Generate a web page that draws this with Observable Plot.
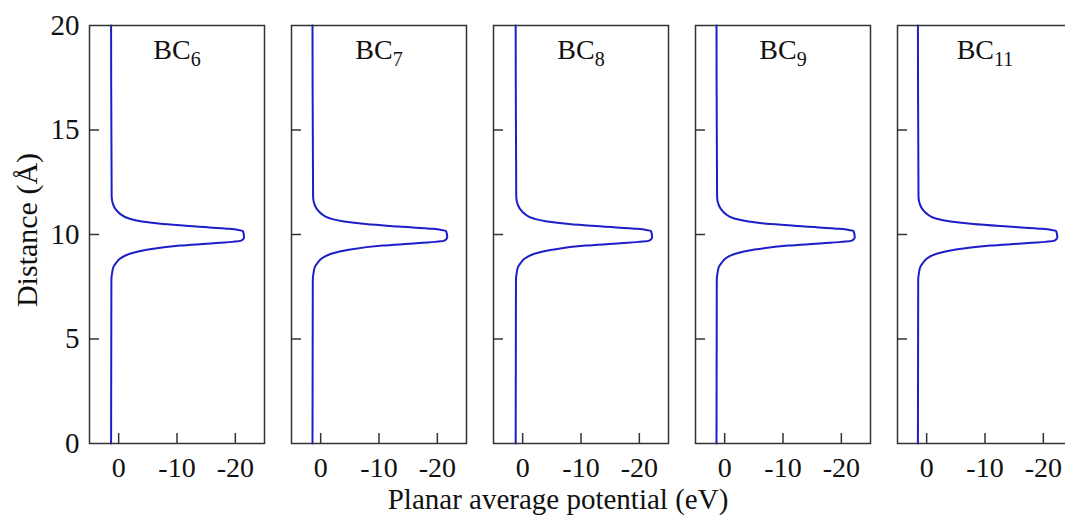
<!DOCTYPE html>
<html><head><meta charset="utf-8">
<script src="https://cdn.jsdelivr.net/npm/d3@7"></script>
<script src="https://cdn.jsdelivr.net/npm/@observablehq/plot@0.6"></script>
<style>
html,body{margin:0;padding:0;overflow:hidden;background:#fff;width:1065px;height:523px}
#chart svg{display:block;overflow:hidden}
</style>
</head><body><div id="chart"></div>
<script>
// panel subscripts (BC_n)
const panels = ["6", "7", "8", "9", "11"];
// shared distance samples (Å)
const distance = [0, 7.8, 8.2, 8.44, 8.65, 8.84, 9.08, 9.27, 9.47, 9.58, 9.71, 9.8, 9.87, 10.16, 10.22, 10.27, 10.38, 10.5, 10.62, 10.75, 11.0, 11.2, 11.4, 11.8, 20];
// planar average potential (eV) per panel
const potBC6  = [1.3, 1.25, 1.1, 0.9, 0.4, -0.2, -1.9, -4.8, -10.5, -16.2, -21.0, -21.4, -21.5, -21.3, -20.5, -19.0, -13.3, -7.6, -4.0, -1.9, -0.2, 0.5, 0.9, 1.2, 1.3];
const potBC7  = [1.4, 1.35, 1.2, 1.0, 0.5, -0.1, -1.8, -4.8, -10.6, -16.4, -21.2, -21.6, -21.7, -21.5, -20.7, -19.2, -13.4, -7.7, -4.0, -1.8, -0.1, 0.6, 1.0, 1.3, 1.4];
const potBC8  = [1.2, 1.15, 1.0, 0.8, 0.3, -0.3, -2.0, -5.0, -10.8, -16.7, -21.7, -22.1, -22.2, -22.0, -21.2, -19.6, -13.7, -7.9, -4.2, -2.0, -0.3, 0.4, 0.8, 1.1, 1.2];
const potBC9  = [1.4, 1.35, 1.2, 1.0, 0.5, -0.1, -1.8, -4.9, -10.9, -16.8, -21.8, -22.2, -22.3, -22.1, -21.3, -19.7, -13.8, -7.9, -4.1, -1.8, -0.1, 0.6, 1.0, 1.3, 1.4];
const potBC11 = [1.5, 1.45, 1.3, 1.1, 0.6, 0.0, -1.7, -4.8, -10.9, -16.9, -21.9, -22.3, -22.4, -22.2, -21.4, -19.8, -13.9, -8.0, -4.1, -1.7, 0.0, 0.7, 1.1, 1.4, 1.5];
// tick labels
const xTicks = [0, -10, -20];
const yTicks = [0, 5, 10, 15, 20];
const yInnerTicks = [5, 10, 15];
const xLabel = "Planar average potential (eV)";
const yLabel = "Distance (Å)";

const series = [potBC6, potBC7, potBC8, potBC9, potBC11];
const table = panels.flatMap((p, i) => distance.map((d, j) => ({panel: p, distance: d, potential: series[i][j]})));

// the last panel runs past the right edge of the picture, as in the reference
const W = 1065, H = 523, mL = 88, mR = -8, mT = 25, mB = 80;
const pad = 0.136;
const step = (W - mL - mR) / (panels.length - pad);
const bw = step * (1 - pad);
const innerH = H - mT - mB;
const ink = "#333";
const fmt = d => String(d);

const chart = Plot.plot({
  width: W, height: H,
  marginLeft: mL, marginRight: mR, marginTop: mT, marginBottom: mB,
  style: {fontFamily: "'Liberation Serif', 'Times New Roman', serif", fontSize: "28px", color: "#111", background: "#fff", overflow: "hidden"},
  fx: {domain: panels, paddingInner: pad, paddingOuter: 0, axis: null, label: null},
  x: {domain: [5, -25]},
  y: {domain: [0, 20]},
  marks: [
    Plot.line(table, {x: "potential", y: "distance", fx: "panel", curve: "monotone-y", stroke: "#1e1ec8", strokeWidth: 2}),
    Plot.tickY(yInnerTicks, {y: d => d, insetRight: bw - 10, stroke: ink, strokeWidth: 1.5}),
    Plot.tickX(xTicks, {x: d => d, insetTop: innerH - 10, stroke: ink, strokeWidth: 1.5}),
    Plot.frame({stroke: ink, strokeWidth: 1.5}),
    Plot.axisY(yTicks, {tickSize: 0, tickPadding: 10, tickFormat: fmt, label: null, fontSize: 29}),
    Plot.axisX(xTicks, {tickSize: 0, tickPadding: 14, tickFormat: fmt, label: null, fontSize: 28}),
    Plot.text(panels, {fx: d => d, text: d => "BC" + d, frameAnchor: "top", dy: 33, lineAnchor: "bottom", fontSize: 28, fill: "#111"})
  ]
});

document.getElementById("chart").appendChild(chart);
const svg = d3.select(chart);

// subscripts on panel titles
svg.selectAll("text").each(function() {
  const t = this.textContent;
  if (/^BC\d+$/.test(t) && this.childElementCount === 0) {
    const n = t.slice(2);
    this.textContent = "";
    const s = d3.select(this);
    s.append("tspan").text("BC");
    s.append("tspan").attr("font-size", 20).attr("dy", 7).text(n);
  }
});

svg.append("text")
  .attr("x", 558).attr("y", 509)
  .attr("text-anchor", "middle")
  .attr("fill", "#111")
  .attr("font-size", 29)
  .text(xLabel);

svg.append("text")
  .attr("transform", "translate(37,230) rotate(-90)")
  .attr("text-anchor", "middle")
  .attr("fill", "#111")
  .attr("font-size", 30)
  .text(yLabel);
</script>
</body></html>
